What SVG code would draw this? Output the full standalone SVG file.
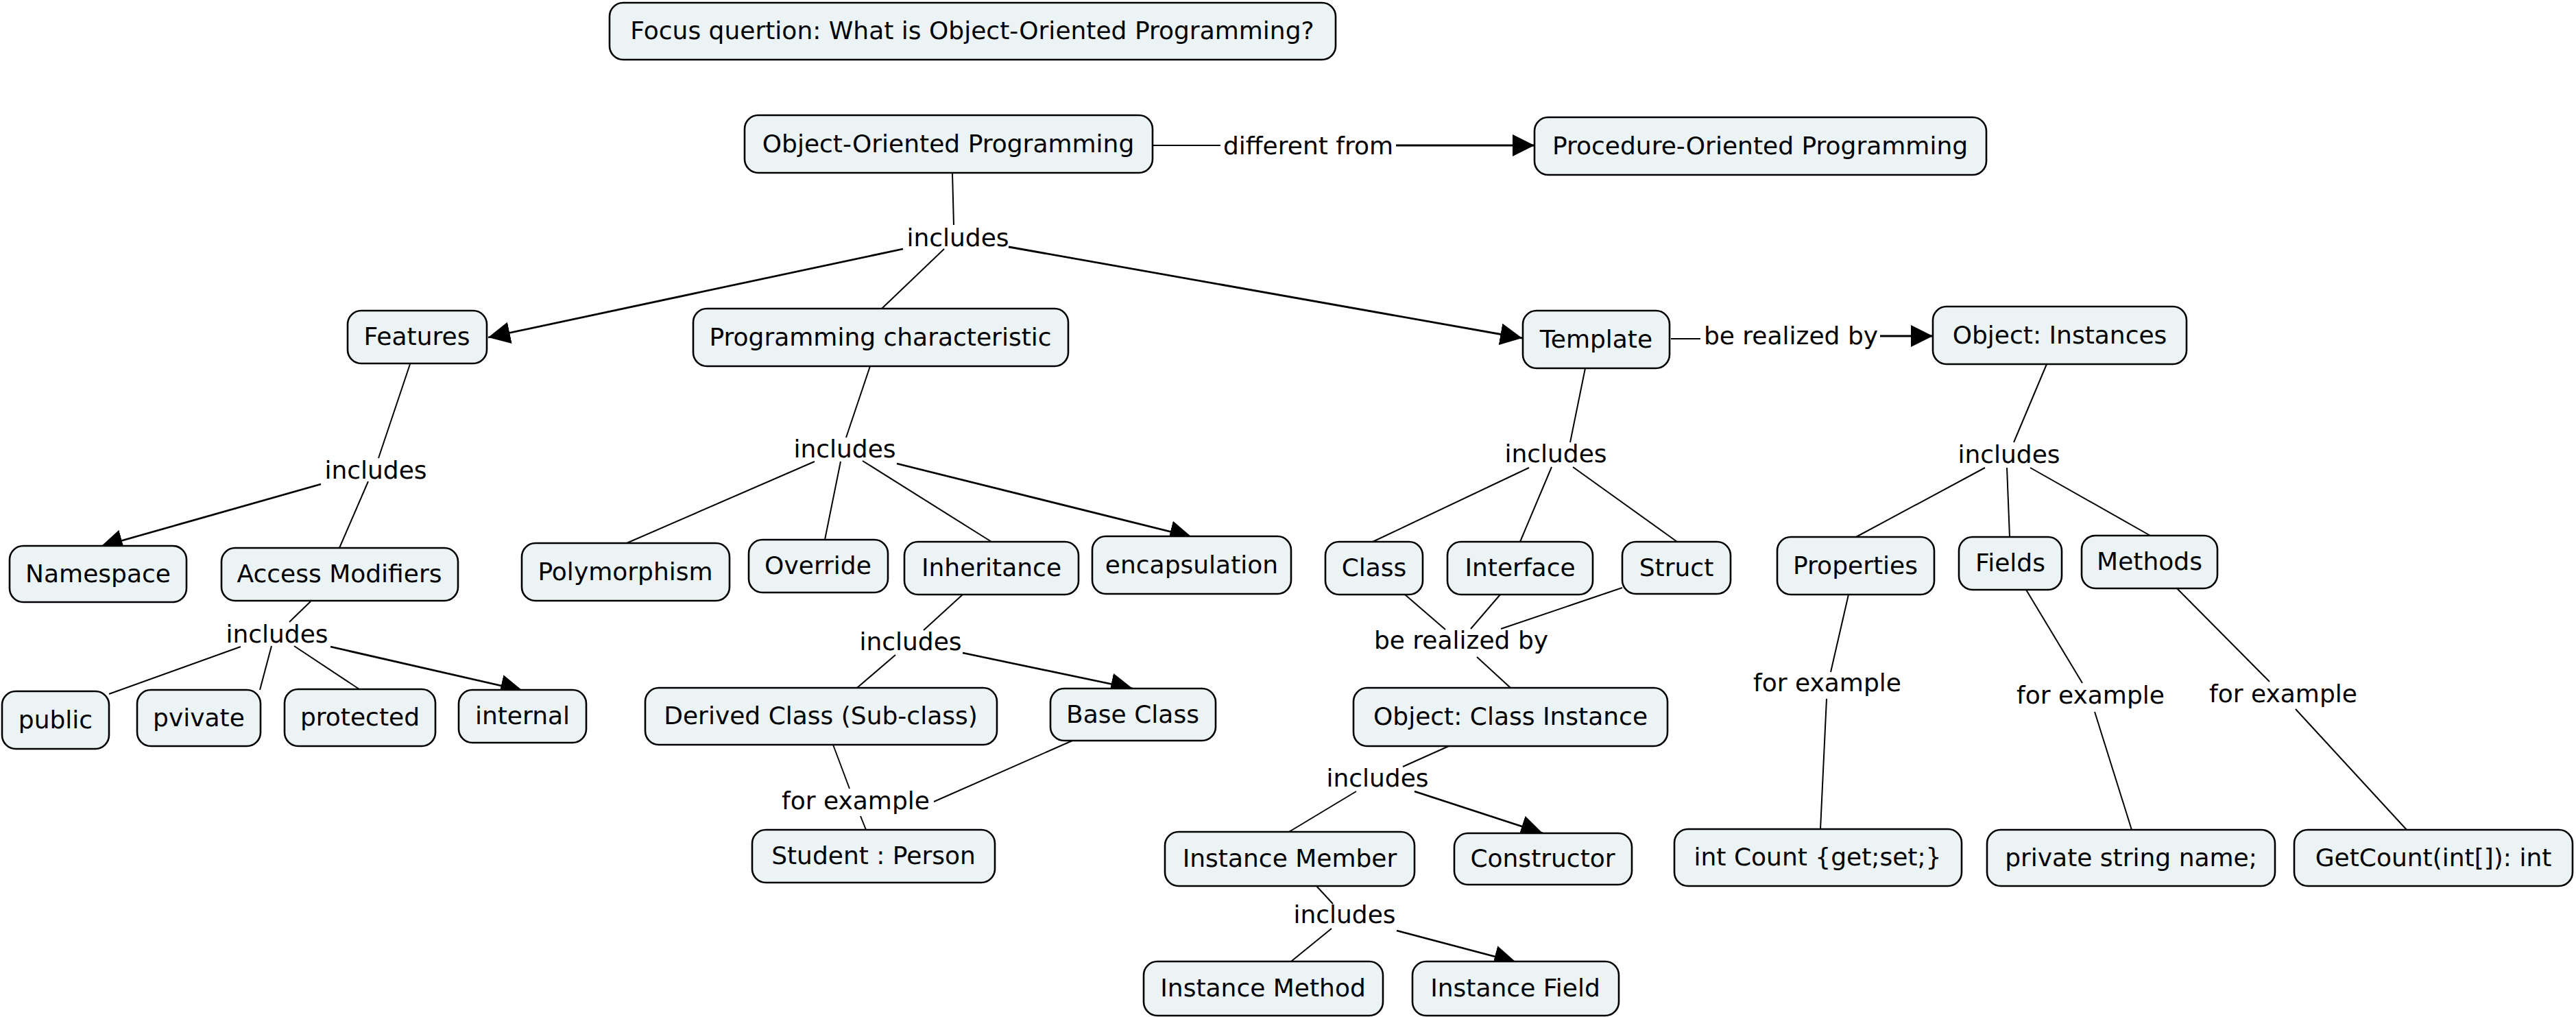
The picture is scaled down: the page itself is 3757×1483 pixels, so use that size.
<svg xmlns="http://www.w3.org/2000/svg" width="3757" height="1483" viewBox="0 0 3757 1483">
<defs>
<style>
.n rect{fill:#EBF3F5;stroke:#000;stroke-width:2.6}
text{font-family:"DejaVu Sans","Verdana",sans-serif;font-size:36px;fill:#000;text-anchor:middle}
.c line{stroke:#000;stroke-width:2;fill:none}
.c line.a{stroke-width:2.8;marker-end:url(#ah)}
</style>
<marker id="ah" markerUnits="userSpaceOnUse" markerWidth="32" markerHeight="32" refX="30" refY="15" orient="auto" viewBox="0 0 30 30">
<path d="M0,0 L30,15 L0,30 z" fill="#000"/>
</marker>
</defs>
<rect width="3757" height="1483" fill="#fff"/>
<g id="connectors" class="c">
<line x1="1681" y1="212" x2="1780" y2="212"/>
<line class="a" x1="2036" y1="212" x2="2238" y2="212"/>
<line x1="1389" y1="252" x2="1391" y2="328"/>
<line class="a" x1="1317" y1="363" x2="712" y2="492"/>
<line x1="1377" y1="363" x2="1286" y2="450"/>
<line class="a" x1="1471" y1="360" x2="2220" y2="493"/>
<line x1="2437" y1="494" x2="2480" y2="494"/>
<line class="a" x1="2742" y1="490" x2="2819" y2="490"/>
<line x1="598" y1="531" x2="552" y2="668"/>
<line class="a" x1="468" y1="706" x2="147" y2="797"/>
<line x1="537" y1="702" x2="495" y2="799"/>
<line x1="453" y1="877" x2="422" y2="907"/>
<line x1="351" y1="943" x2="159" y2="1012"/>
<line x1="396" y1="942" x2="379" y2="1006"/>
<line x1="429" y1="942" x2="524" y2="1005"/>
<line class="a" x1="482" y1="943" x2="762" y2="1007"/>
<line x1="1269" y1="534" x2="1234" y2="638"/>
<line x1="1188" y1="673" x2="914" y2="792"/>
<line x1="1226" y1="673" x2="1203" y2="787"/>
<line x1="1258" y1="672" x2="1446" y2="790"/>
<line class="a" x1="1308" y1="676" x2="1738" y2="783"/>
<line x1="1404" y1="867" x2="1347" y2="919"/>
<line x1="1306" y1="955" x2="1250" y2="1003"/>
<line class="a" x1="1404" y1="952" x2="1652" y2="1004"/>
<line x1="1215" y1="1086" x2="1239" y2="1150"/>
<line x1="1564" y1="1080" x2="1362" y2="1169"/>
<line x1="1255" y1="1190" x2="1263" y2="1210"/>
<line x1="2312" y1="537" x2="2290" y2="645"/>
<line x1="2230" y1="682" x2="2002" y2="790"/>
<line x1="2263" y1="681" x2="2217" y2="790"/>
<line x1="2294" y1="681" x2="2446" y2="790"/>
<line x1="2049" y1="867" x2="2108" y2="918"/>
<line x1="2188" y1="867" x2="2145" y2="917"/>
<line x1="2366" y1="857" x2="2189" y2="917"/>
<line x1="2154" y1="958" x2="2203" y2="1003"/>
<line x1="2113" y1="1088" x2="2046" y2="1118"/>
<line x1="1978" y1="1154" x2="1880" y2="1213"/>
<line class="a" x1="2063" y1="1154" x2="2250" y2="1215"/>
<line x1="1920" y1="1292" x2="1944" y2="1318"/>
<line x1="1942" y1="1354" x2="1883" y2="1402"/>
<line class="a" x1="2037" y1="1357" x2="2211" y2="1403"/>
<line x1="2985" y1="531" x2="2937" y2="645"/>
<line x1="2895" y1="682" x2="2707" y2="783"/>
<line x1="2927" y1="682" x2="2931" y2="783"/>
<line x1="2961" y1="682" x2="3136" y2="781"/>
<line x1="2696" y1="867" x2="2670" y2="980"/>
<line x1="2664" y1="1019" x2="2655" y2="1209"/>
<line x1="2955" y1="860" x2="3037" y2="996"/>
<line x1="3055" y1="1038" x2="3109" y2="1210"/>
<line x1="3175" y1="858" x2="3310" y2="994"/>
<line x1="3348" y1="1034" x2="3510" y2="1210"/>
</g>
<g id="linking-phrases">
<text x="1908" y="225">different from</text>
<text x="1397" y="359">includes</text>
<text x="548" y="698">includes</text>
<text x="1232" y="667">includes</text>
<text x="404" y="937">includes</text>
<text x="1328" y="948">includes</text>
<text x="1248" y="1180">for example</text>
<text x="2269" y="674">includes</text>
<text x="2612" y="502">be realized by</text>
<text x="2131" y="946">be realized by</text>
<text x="2009" y="1147">includes</text>
<text x="1961" y="1346">includes</text>
<text x="2930" y="675">includes</text>
<text x="2665" y="1008">for example</text>
<text x="3049" y="1026">for example</text>
<text x="3330" y="1024">for example</text>
</g>
<g id="focus" class="n"><rect x="889" y="4" width="1059" height="83" rx="20"/><text x="1418" y="57">Focus quertion: What is Object-Oriented Programming?</text></g>
<g id="oop" class="n"><rect x="1086" y="168" width="595" height="84" rx="20"/><text x="1383" y="222">Object-Oriented Programming</text></g>
<g id="pop" class="n"><rect x="2238" y="171" width="659" height="84" rx="20"/><text x="2567" y="225">Procedure-Oriented Programming</text></g>
<g id="features" class="n"><rect x="507" y="453" width="203" height="77" rx="20"/><text x="608" y="503">Features</text></g>
<g id="progchar" class="n"><rect x="1011" y="450" width="547" height="84" rx="20"/><text x="1284" y="504">Programming characteristic</text></g>
<g id="template" class="n"><rect x="2221" y="453" width="214" height="84" rx="20"/><text x="2328" y="507">Template</text></g>
<g id="objinst" class="n"><rect x="2819" y="447" width="370" height="84" rx="20"/><text x="3004" y="501">Object: Instances</text></g>
<g id="namespace" class="n"><rect x="14" y="796" width="258" height="82" rx="20"/><text x="143" y="849">Namespace</text></g>
<g id="access" class="n"><rect x="323" y="799" width="345" height="77" rx="20"/><text x="495" y="849">Access Modifiers</text></g>
<g id="public" class="n"><rect x="3" y="1008" width="156" height="84" rx="20"/><text x="81" y="1062">public</text></g>
<g id="pvivate" class="n"><rect x="200" y="1006" width="180" height="82" rx="20"/><text x="290" y="1059">pvivate</text></g>
<g id="protected" class="n"><rect x="415" y="1005" width="220" height="83" rx="20"/><text x="525" y="1058">protected</text></g>
<g id="internal" class="n"><rect x="669" y="1006" width="186" height="77" rx="20"/><text x="762" y="1056">internal</text></g>
<g id="polymorphism" class="n"><rect x="761" y="792" width="303" height="84" rx="20"/><text x="912" y="846">Polymorphism</text></g>
<g id="override" class="n"><rect x="1092" y="787" width="203" height="77" rx="20"/><text x="1193" y="837">Override</text></g>
<g id="inheritance" class="n"><rect x="1319" y="790" width="254" height="77" rx="20"/><text x="1446" y="840">Inheritance</text></g>
<g id="encapsulation" class="n"><rect x="1593" y="782" width="290" height="84" rx="20"/><text x="1738" y="836">encapsulation</text></g>
<g id="derived" class="n"><rect x="941" y="1003" width="513" height="83" rx="20"/><text x="1197" y="1056">Derived Class (Sub-class)</text></g>
<g id="baseclass" class="n"><rect x="1532" y="1004" width="241" height="76" rx="20"/><text x="1652" y="1054">Base Class</text></g>
<g id="student" class="n"><rect x="1097" y="1210" width="354" height="77" rx="20"/><text x="1274" y="1260">Student : Person</text></g>
<g id="class" class="n"><rect x="1933" y="790" width="142" height="77" rx="20"/><text x="2004" y="840">Class</text></g>
<g id="interface" class="n"><rect x="2111" y="790" width="212" height="77" rx="20"/><text x="2217" y="840">Interface</text></g>
<g id="struct" class="n"><rect x="2366" y="790" width="158" height="76" rx="20"/><text x="2445" y="840">Struct</text></g>
<g id="objclass" class="n"><rect x="1974" y="1003" width="458" height="85" rx="20"/><text x="2203" y="1057">Object: Class Instance</text></g>
<g id="instmember" class="n"><rect x="1699" y="1213" width="364" height="79" rx="20"/><text x="1881" y="1264">Instance Member</text></g>
<g id="constructor" class="n"><rect x="2121" y="1215" width="259" height="75" rx="20"/><text x="2250" y="1264">Constructor</text></g>
<g id="instmethod" class="n"><rect x="1668" y="1402" width="349" height="79" rx="20"/><text x="1842" y="1453">Instance Method</text></g>
<g id="instfield" class="n"><rect x="2060" y="1402" width="301" height="79" rx="20"/><text x="2210" y="1453">Instance Field</text></g>
<g id="properties" class="n"><rect x="2592" y="783" width="229" height="84" rx="20"/><text x="2706" y="837">Properties</text></g>
<g id="fields" class="n"><rect x="2857" y="783" width="150" height="77" rx="20"/><text x="2932" y="833">Fields</text></g>
<g id="methods" class="n"><rect x="3036" y="781" width="198" height="77" rx="20"/><text x="3135" y="831">Methods</text></g>
<g id="intcount" class="n"><rect x="2442" y="1209" width="419" height="83" rx="20"/><text x="2651" y="1262">int Count {get;set;}</text></g>
<g id="privatestr" class="n"><rect x="2898" y="1210" width="420" height="82" rx="20"/><text x="3108" y="1263">private string name;</text></g>
<g id="getcount" class="n"><rect x="3346" y="1210" width="406" height="82" rx="20"/><text x="3549" y="1263">GetCount(int[]): int</text></g>
</svg>
